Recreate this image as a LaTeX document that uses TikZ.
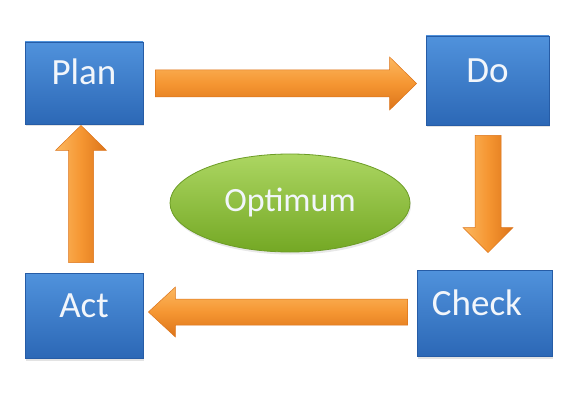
\documentclass[tikz,border=0pt]{standalone}
\usepackage{fontspec}
\setmainfont{Carlito}
\usetikzlibrary{calc,shadows,shapes.geometric}
\definecolor{boxtop}{RGB}{80,146,220}
\definecolor{boxbot}{RGB}{44,104,182}
\definecolor{boxedge}{RGB}{38,92,166}
\definecolor{ortop}{RGB}{252,184,96}
\definecolor{ormid}{RGB}{245,150,50}
\definecolor{orbot}{RGB}{220,116,26}
\definecolor{grtop}{RGB}{172,214,98}
\definecolor{grbot}{RGB}{116,168,36}
\definecolor{gredge}{RGB}{108,156,38}
\definecolor{labtext}{RGB}{242,246,251}
\begin{document}
\begin{tikzpicture}[x=1pt,y=-1pt,
  pdcabox/.style={rectangle, top color=boxtop, bottom color=boxbot, draw=boxedge,
    line width=0.8pt, text=labtext, font=\fontsize{37}{40}\selectfont,
    text height=14pt, text depth=10pt, inner sep=0pt,
    drop shadow={opacity=0.22, shadow xshift=1pt, shadow yshift=-2.5pt}},
  harrow/.style={top color=ortop, bottom color=orbot, middle color=ormid, draw=orbot, line width=0.5pt, line join=miter},
  varrow/.style={left color=ortop, right color=orbot, middle color=ormid, draw=orbot, line width=0.5pt, line join=miter},
  optstyle/.style={ellipse, top color=grtop, bottom color=grbot, draw=gredge, line width=0.8pt,
    text=labtext, font=\fontsize{34}{38}\selectfont, text height=20pt, text depth=3pt, inner sep=0pt,
    drop shadow={opacity=0.18, shadow xshift=1pt, shadow yshift=-2.5pt}}
]
\useasboundingbox (0,0) rectangle (580,403);
\fill[white] (0,0) rectangle (580,403);

\node[pdcabox, minimum width=118pt, minimum height=82pt] (plan) at (84,83) {Plan};
\node[pdcabox, minimum width=123pt, minimum height=89pt] (do) at (487.5,80.5) {Do};
\node[pdcabox, minimum width=135pt, minimum height=86pt] (check) at (484.5,313) {\hspace*{-15pt}Check};
\node[pdcabox, minimum width=118pt, minimum height=85pt] (act) at (84,315.5) {Act};
\node[optstyle, minimum width=240pt, minimum height=98pt] (opt) at (290,203) {Optimum};

% Plan -> Do
\coordinate (pdA) at ($(plan.east)+(12,0.5)$);
\coordinate (pdB) at ($(do.west)+(-9,3)$);
\draw[harrow] ($(pdA)+(0,-13.5)$) -- ($(pdB)+(-27,-13.5)$) -- ($(pdB)+(-27,-26.5)$) -- (pdB)
  -- ($(pdB)+(-27,26.5)$) -- ($(pdB)+(-27,13.5)$) -- ($(pdA)+(0,13.5)$) -- cycle;

% Do -> Check
\coordinate (dcA) at ($(do.south)+(0.5,10)$);
\coordinate (dcB) at ($(check.north)+(3.5,-17)$);
\draw[varrow] ($(dcA)+(-13,0)$) -- ($(dcB)+(-13,-25)$) -- ($(dcB)+(-25,-25)$) -- (dcB)
  -- ($(dcB)+(25,-25)$) -- ($(dcB)+(13,-25)$) -- ($(dcA)+(13,0)$) -- cycle;

% Check -> Act
\coordinate (caA) at ($(check.west)+(-9,-1)$);
\coordinate (caB) at ($(act.east)+(5,-3.5)$);
\draw[harrow] ($(caA)+(0,-13)$) -- ($(caB)+(27,-13)$) -- ($(caB)+(27,-25)$) -- (caB)
  -- ($(caB)+(27,25)$) -- ($(caB)+(27,13)$) -- ($(caA)+(0,13)$) -- cycle;

% Act -> Plan
\coordinate (apA) at ($(act.north)+(-3,-10)$);
\coordinate (apB) at ($(plan.south)+(-3,1)$);
\draw[varrow] ($(apA)+(-12.5,0)$) -- ($(apB)+(-12.5,25)$) -- ($(apB)+(-25.5,25)$) -- (apB)
  -- ($(apB)+(25.5,25)$) -- ($(apB)+(12.5,25)$) -- ($(apA)+(12.5,0)$) -- cycle;
\end{tikzpicture}
\end{document}
